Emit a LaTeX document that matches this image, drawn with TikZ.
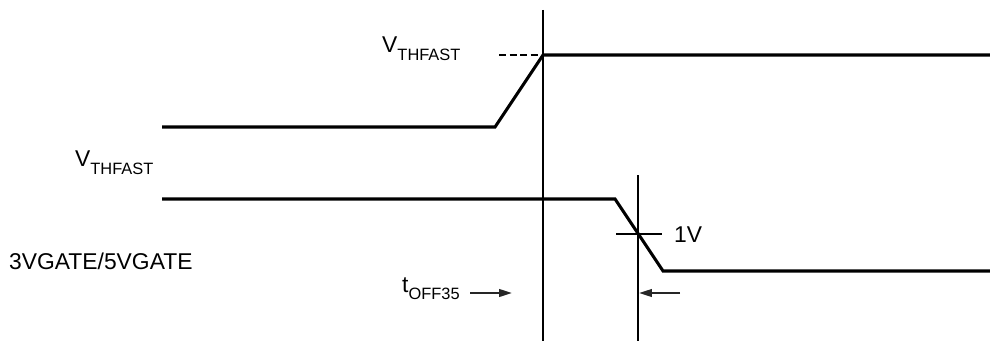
\documentclass[tikz,border=0pt]{standalone}
\usepackage{fontspec}
\setmainfont{Liberation Sans}
\usetikzlibrary{arrows.meta,calc}
\newcommand{\subtxt}[1]{\raisebox{-6.8pt}{\fontsize{14}{16}\selectfont #1}}

\begin{document}
\begin{tikzpicture}
[x=0.03cm,y=-0.03cm, font=\fontsize{19.5}{23}\selectfont,
sig/.style={line width=2.6pt, line join=miter},
refline/.style={line width=1.3pt},
timearrow/.style={-{Triangle[length=11pt,width=6.5pt]}, line width=1.7pt, black!85},
lbl/.style={anchor=base west, inner sep=0pt}]
\useasboundingbox (0,0) rectangle (990,341);

% signal corners
\coordinate (a0) at (162,127);
\coordinate (a1) at (495,127);
\coordinate (a2) at (543,55);
\coordinate (a3) at (990,55);
\coordinate (b0) at (162,199);
\coordinate (b1) at (615,199);
\coordinate (b2) at (663,271);
\coordinate (b3) at (990,271);

% reference lines
\coordinate (r1top) at (543,10);
\coordinate (r1bot) at (543,341);
\coordinate (r2top) at (638,175);
\coordinate (r2bot) at (638,341);
\coordinate (tickl) at (616,234);
\coordinate (tickr) at (662,234);
\coordinate (dash0) at (499,55);
\coordinate (dash1) at (540,55);

% arrow ends
\coordinate (t1s) at (470,293);
\coordinate (t1e) at (512,293);
\coordinate (t2s) at (680,293);
\coordinate (t2e) at (639,293);

\node (vth1) at (382,53) [lbl] {V\subtxt{THFAST}};
\node (vth2) at (75,167) [lbl] {V\subtxt{THFAST}};
\node (gate) at (9,269) [lbl] {3VGATE/5VGATE};
\node (onev) at (674,242) [lbl] {1V};
\node (toff) at (402,292) [lbl] {t\subtxt{OFF35}};

\draw[sig] (a0) -- (a1) -- (a2) -- (a3);
\draw[sig] (b0) -- (b1) -- (b2) -- (b3);

\draw[refline] (r1top) -- (r1bot);
\draw[refline] (r2top) -- (r2bot);
\draw[refline] (tickl) -- (tickr);
\draw[line width=1.8pt, dash pattern=on 6pt off 3pt] (dash0) -- (dash1);

\draw[timearrow] (t1s) -- (t1e);
\draw[timearrow] (t2s) -- (t2e);

\end{tikzpicture}
\end{document}
